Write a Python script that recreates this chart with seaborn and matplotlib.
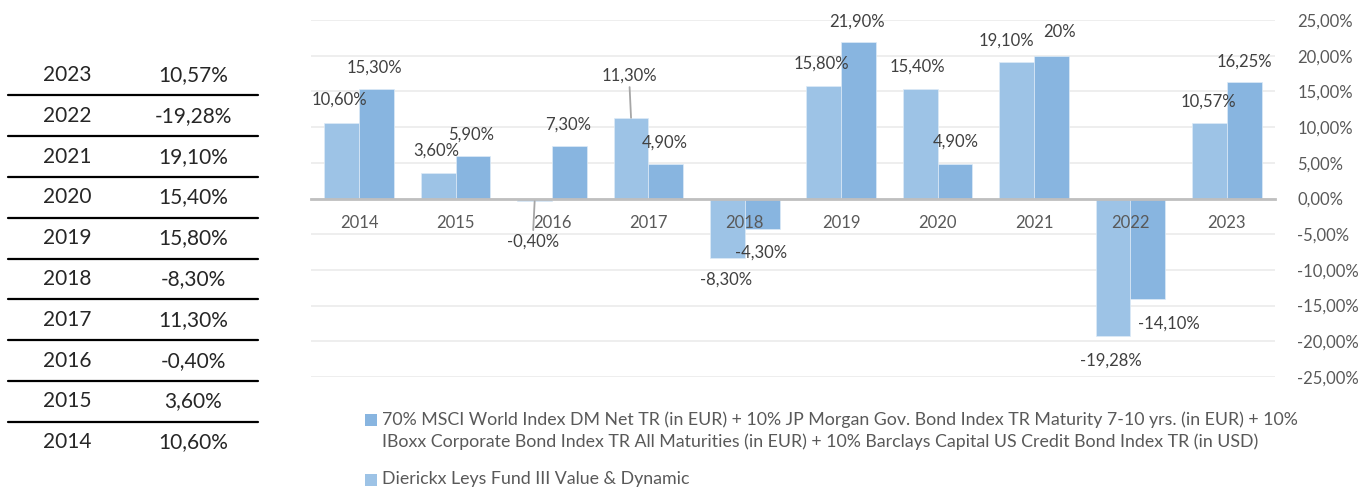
import matplotlib
matplotlib.use("Agg")
import matplotlib.pyplot as plt
import matplotlib.ticker as mticker
from matplotlib.lines import Line2D
from matplotlib.patches import Rectangle
import pandas as pd
import seaborn as sns

years = ["2014", "2015", "2016", "2017", "2018", "2019", "2020", "2021", "2022", "2023"]
fund = [10.60, 3.60, -0.40, 11.30, -8.30, 15.80, 15.40, 19.10, -19.28, 10.57]
benchmark = [15.30, 5.90, 7.30, 4.90, -4.30, 21.90, 4.90, 20.00, -14.10, 16.25]
fund_labels = ["10,60%", "3,60%", "-0,40%", "11,30%", "-8,30%", "15,80%", "15,40%", "19,10%", "-19,28%", "10,57%"]
bench_labels = ["15,30%", "5,90%", "7,30%", "4,90%", "-4,30%", "21,90%", "4,90%", "20%", "-14,10%", "16,25%"]

fund_name = "Dierickx Leys Fund III Value & Dynamic"
bench_name = ("70% MSCI World Index DM Net TR (in EUR) + 10% JP Morgan Gov. Bond Index TR Maturity 7-10 yrs. (in EUR) + 10%\n"
              "IBoxx Corporate Bond Index TR All Maturities (in EUR) + 10% Barclays Capital US Credit Bond Index TR (in USD)")

LIGHT = "#9DC3E6"
DARK = "#88B5E0"
GREY = "#595959"

# label offsets in pixels (dx, dy away from bar end)
fund_off = [(-2, 23), (-2, 22), (-2, 40), (-2, 42), (-1, 22), (-2, 22), (-3, 22), (-10, 22), (-2, 24), (-1, 21)]
bench_off = [(-2, 22), (-2, 22), (-1, 22), (-1, 21), (-1, 23), (-2, 21), (1, 22), (8, 24), (21, 24), (0, 21)]
leaders = {2, 3}

df = pd.DataFrame({
    "year": years * 2,
    "value": fund + benchmark,
    "series": [fund_name] * len(years) + [bench_name] * len(years),
})

sns.set_theme(style="white")
plt.rcParams["font.family"] = ["Lato", "DejaVu Sans"]

W, H = 1363, 488
fig = plt.figure(figsize=(W / 100, H / 100), dpi=100)
ax = fig.add_axes([311 / W, 1 - 377 / H, 964 / W, 357 / H])

sns.barplot(data=df, x="year", y="value", hue="series", hue_order=[fund_name, bench_name],
            palette=[LIGHT, DARK], saturation=1, width=0.72, gap=0, ax=ax, legend=False,
            edgecolor="#DDEBF7", linewidth=0.5)

ax.set_ylim(-25, 25)
ax.set_xlim(-0.5, len(years) - 0.5)
ax.set_xlabel("")
ax.set_ylabel("")
ax.yaxis.tick_right()
ax.yaxis.set_major_locator(mticker.MultipleLocator(5))
ax.yaxis.set_major_formatter(mticker.FuncFormatter(lambda v, _: f"{v:.2f}".replace(".", ",") + "%"))
ax.tick_params(axis="y", length=0, pad=16, labelsize=12, labelcolor=GREY)
ax.tick_params(axis="x", length=0, pad=12, labelsize=12, labelcolor=GREY)
ax.yaxis.grid(True, color="#EBEBEB", lw=1.2)
ax.set_axisbelow(True)
ax.xaxis.set_zorder(4)  # year labels sit on top of the bars
for s in ["left", "right", "top"]:
    ax.spines[s].set_visible(False)
ax.spines["bottom"].set_position(("data", 0))
ax.spines["bottom"].set_color("#BFBFBF")
ax.spines["bottom"].set_linewidth(2)
ax.spines["bottom"].set_zorder(3)

for cont, labels, offs, is_fund in [(ax.containers[0], fund_labels, fund_off, True),
                                    (ax.containers[1], bench_labels, bench_off, False)]:
    for i, (bar, txt, (dx, dy)) in enumerate(zip(cont, labels, offs)):
        x = bar.get_x() + bar.get_width() / 2
        y = bar.get_y() + bar.get_height()
        sign = 1 if y >= 0 else -1
        kw = {}
        if is_fund and i in leaders:
            kw["arrowprops"] = dict(arrowstyle="-", color="#A6A6A6", lw=1.3, shrinkA=0, shrinkB=0)
        ax.annotate(txt, xy=(x, y), xytext=(dx, sign * dy), textcoords="offset pixels",
                    ha="center", va="center", fontsize=12, color="#404040", zorder=5, **kw)

# table on the left
row_y0, row_step = 75, 40.8
for k, (yr, val) in enumerate(zip(years[::-1], fund_labels[::-1])):
    yy = row_y0 + k * row_step
    fig.text(67 / W, 1 - yy / H, yr, ha="center", va="center", fontsize=15, color="#262626")
    fig.text(193 / W, 1 - yy / H, val, ha="center", va="center", fontsize=15, color="#262626")
    if k > 0:
        ly = yy - row_step / 2
        fig.add_artist(Line2D([8 / W, 258 / W], [1 - ly / H] * 2, color="black", lw=1.6))

# legend below the chart
for sq_y, color, text in [(420, DARK, bench_name), (480, LIGHT, fund_name)]:
    fig.add_artist(Rectangle((365 / W, 1 - (sq_y + 6) / H), 12 / W, 12 / H,
                             transform=fig.transFigure, color=color, lw=0))
    fig.text(382 / W, 1 - (sq_y - 9) / H, text, ha="left", va="top", fontsize=12.8,
             color=GREY, linespacing=1.45)

fig.savefig("out.png", dpi=100)
